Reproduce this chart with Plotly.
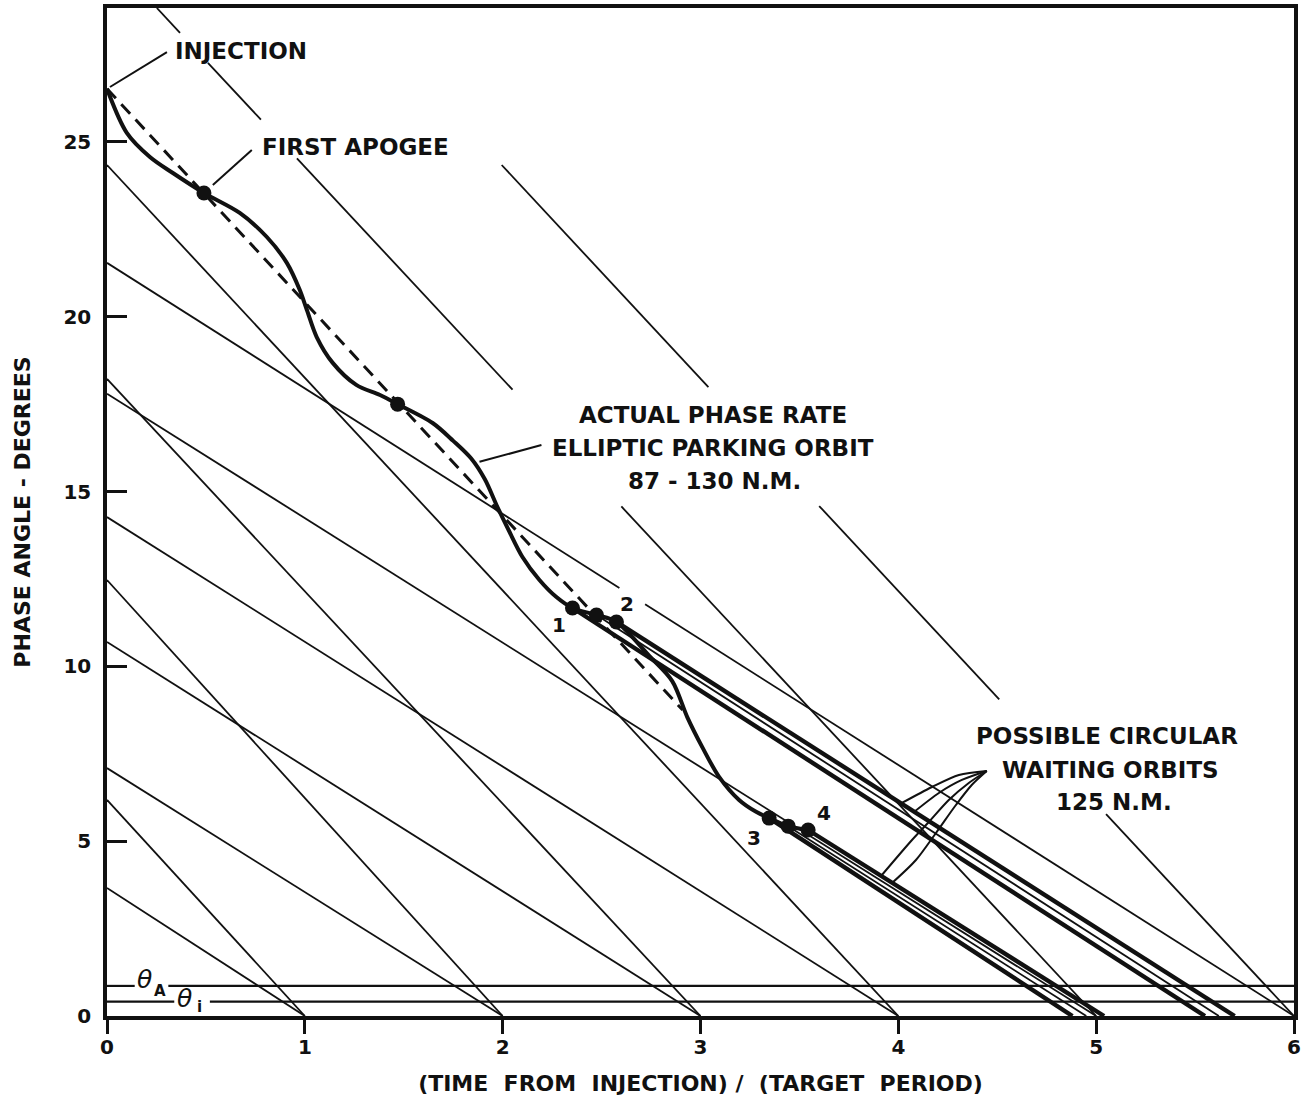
import plotly.graph_objects as go

# ---------------- data ----------------
# Steep reference lines: start point -> (end_x, 0)
steep_x0 = [0.0, 0.0, 0.0, 0.0, 0.252, 1.995]
steep_v0 = [6.18, 12.47, 18.22, 24.34, 28.83, 24.34]
steep_x1 = [1, 2, 3, 4, 5, 6]
# x-intervals left open where a label sits on the line
steep_gaps = [[], [], [], [], [(0.369, 0.51), (0.778, 0.96), (2.05, 2.6)],
              [(3.04, 3.6), (4.51, 5.05)]]

# Shallow reference lines: (0, start) -> (end_x, 0)
shallow_v0 = [3.66, 7.09, 10.7, 14.27, 17.8, 21.54]
shallow_x1 = [1, 2, 3, 4, 5, 6]
shallow_gaps = [[], [], [], [], [], [(2.59, 2.72)]]

# Threshold phase angles theta_A and theta_i
theta_levels = [0.86, 0.41]
theta_gaps = [[(0.14, 0.31)], [(0.34, 0.52)]]

# Actual phase angle along the elliptic parking orbit (87-130 N.M.)
ell_x = [0.0, 0.10, 0.217, 0.333, 0.49, 0.671, 0.808, 0.909, 0.974, 1.01, 1.06,
         1.141, 1.26, 1.38, 1.469, 1.646, 1.75, 1.84, 1.91, 1.97, 2.03, 2.10,
         2.186, 2.27, 2.353, 2.474, 2.575, 2.741, 2.857, 2.933, 3.009, 3.094,
         3.195, 3.281, 3.347, 3.443, 3.544]
ell_v = [26.52, 25.26, 24.57, 24.11, 23.54, 22.97, 22.28, 21.54, 20.77, 20.2,
         19.42, 18.68, 18.05, 17.76, 17.5, 16.96, 16.45, 15.95, 15.35, 14.6,
         13.9, 13.13, 12.47, 11.99, 11.67, 11.47, 11.27, 10.3, 9.58, 8.55, 7.69,
         6.84, 6.18, 5.84, 5.66, 5.43, 5.32]

# Mean phase rate of the elliptic orbit (dashed)
mean_x = [0.0, 2.91]
mean_v = [26.52, 8.75]

# Marked orbit points (apogees and transfer points 1-4)
dot_x = [0.49, 1.469, 2.353, 2.474, 2.575, 3.347, 3.443, 3.544]
dot_v = [23.54, 17.5, 11.67, 11.47, 11.27, 5.66, 5.43, 5.32]

# Possible circular waiting orbits (125 N.M.) leaving the marked points
wait_x0 = [2.353, 2.474, 2.575, 3.347, 3.443, 3.544]
wait_v0 = [11.67, 11.47, 11.27, 5.66, 5.43, 5.32]
wait_x1 = [5.55, 5.62, 5.70, 4.88, 4.95, 5.04]
wait_main = [True, False, True, True, False, True]

x_ticks = [0, 1, 2, 3, 4, 5, 6]
y_ticks = [0, 5, 10, 15, 20, 25]

# ---------------- helpers ----------------
def segmented(x0, v0, x1, v1, gaps):
    """Points of a straight line from (x0,v0) to (x1,v1), broken at gaps."""
    def at(x):
        return v0 + (v1 - v0) * (x - x0) / (x1 - x0)
    xs, vs = [], []
    cur = x0
    for g0, g1 in sorted(gaps):
        xs += [cur, g0, None]
        vs += [at(cur), at(g0), None]
        cur = g1
    xs += [cur, x1, None]
    vs += [at(cur), v1, None]
    return xs, vs

INK = "#111111"
FONT = "DejaVu Sans"

fig = go.Figure()

# thin reference families
tx, tv = [], []
for x0, v0, x1, gp in zip(steep_x0, steep_v0, steep_x1, steep_gaps):
    a, b = segmented(x0, v0, x1, 0.0, gp)
    tx += a; tv += b
for v0, x1, gp in zip(shallow_v0, shallow_x1, shallow_gaps):
    a, b = segmented(0.0, v0, x1, 0.0, gp)
    tx += a; tv += b
fig.add_trace(go.Scatter(x=tx, y=tv, mode="lines", line=dict(color=INK, width=1.8),
                         hoverinfo="skip", showlegend=False))

# theta thresholds
hx, hv = [], []
for lev, gp in zip(theta_levels, theta_gaps):
    a, b = segmented(0.0, lev, 6.0, lev, gp)
    hx += a; hv += b
fig.add_trace(go.Scatter(x=hx, y=hv, mode="lines", line=dict(color=INK, width=2.2),
                         hoverinfo="skip", showlegend=False))

# mean phase rate (dashed)
fig.add_trace(go.Scatter(x=mean_x, y=mean_v, mode="lines",
                         line=dict(color=INK, width=3, dash="13px,8px"),
                         hoverinfo="skip", showlegend=False))

# circular waiting orbits
for x0, v0, x1, main in zip(wait_x0, wait_v0, wait_x1, wait_main):
    fig.add_trace(go.Scatter(x=[x0, x1], y=[v0, 0.0], mode="lines",
                             line=dict(color=INK, width=4.4 if main else 1.8),
                             hoverinfo="skip", showlegend=False))

# actual phase angle, elliptic parking orbit
fig.add_trace(go.Scatter(x=ell_x, y=ell_v, mode="lines",
                         line=dict(color=INK, width=4, shape="spline", smoothing=0.9),
                         hoverinfo="skip", showlegend=False))

fig.add_trace(go.Scatter(x=dot_x, y=dot_v, mode="markers",
                         marker=dict(color=INK, size=15), hoverinfo="skip",
                         showlegend=False))

# leader lines from the labels
leaders = [
    ([0.303, 0.015], [27.57, 26.57]),
    ([0.732, 0.535], [24.77, 23.77]),
    ([2.196, 1.883], [16.33, 15.85]),
    ([4.447, 4.306, 4.170, 4.018], [7.008, 6.894, 6.550, 6.093]),
    ([4.447, 4.321, 4.205, 4.079], [7.008, 6.751, 6.379, 5.835]),
    ([4.447, 4.356, 4.255, 4.154, 4.069, 3.917], [7.008, 6.665, 6.178, 5.549, 5.034, 4.033]),
    ([4.447, 4.371, 4.291, 4.190, 4.089, 3.968], [7.008, 6.608, 6.035, 5.235, 4.462, 3.804]),
]
for lx, lv in leaders:
    fig.add_trace(go.Scatter(x=lx, y=lv, mode="lines",
                             line=dict(color=INK, width=2, shape="spline", smoothing=0.8),
                             hoverinfo="skip", showlegend=False))

def label(text, x, y, size=23, anchor="center", style="normal", weight="bold"):
    fig.add_annotation(x=x, y=y, xref="x", yref="y", text=text, showarrow=False,
                       xanchor=anchor, yanchor="middle",
                       font=dict(family=FONT, size=size, color=INK, weight=weight,
                                 style=style))

label("INJECTION", 0.333, 27.6, anchor="left")
label("FIRST APOGEE", 0.772, 24.86, anchor="left")
label("ACTUAL PHASE RATE", 3.064, 17.19)
label("ELLIPTIC PARKING ORBIT", 3.064, 16.25)
label("87 - 130 N.M.", 3.07, 15.3)
label("POSSIBLE CIRCULAR", 5.053, 8.01)
label("WAITING ORBITS", 5.07, 7.04)
label("125 N.M.", 5.09, 6.12)
label("1", 2.287, 11.18, size=20)
label("2", 2.63, 11.78, size=20)
label("3", 3.271, 5.09, size=20)
label("4", 3.624, 5.81, size=20)
# theta_A and theta_i tags on the threshold lines
label("θ", 0.19, 1.03, size=25, style="italic", weight="normal")
label("A", 0.27, 0.72, size=15)
label("θ", 0.39, 0.49, size=25, style="italic", weight="normal")
label("i", 0.47, 0.27, size=15)

axis_font = dict(family=FONT, size=20, color=INK, weight="bold")
title_font = dict(family=FONT, size=22, color=INK, weight="bold")

fig.update_layout(
    width=1302, height=1101,
    margin=dict(l=107, r=8, t=8, b=85),
    paper_bgcolor="white", plot_bgcolor="white",
    xaxis=dict(range=[0, 6], tickvals=x_ticks, ticktext=[str(t) for t in x_ticks],
               ticks="outside", ticklen=14, tickwidth=2.5, tickcolor=INK,
               showline=True, linewidth=3.5, linecolor=INK, mirror=True,
               showgrid=False, zeroline=False, tickfont=axis_font,
               ticklabelstandoff=-4,
               title=dict(text="(TIME\u00a0 FROM\u00a0 INJECTION) /\u00a0 (TARGET\u00a0 PERIOD)",
                          font=title_font, standoff=19),
               automargin=False),
    yaxis=dict(range=[0, 28.83], tickvals=y_ticks, ticktext=[str(t) for t in y_ticks],
               ticks="inside", ticklen=20, tickwidth=2.5, tickcolor=INK,
               showline=True, linewidth=3.5, linecolor=INK, mirror=True,
               showgrid=False, zeroline=False, tickfont=axis_font,
               ticklabelstandoff=8,
               title=dict(text="PHASE ANGLE - DEGREES", font=title_font, standoff=28),
               automargin=False),
)

fig.write_html("out.html")
